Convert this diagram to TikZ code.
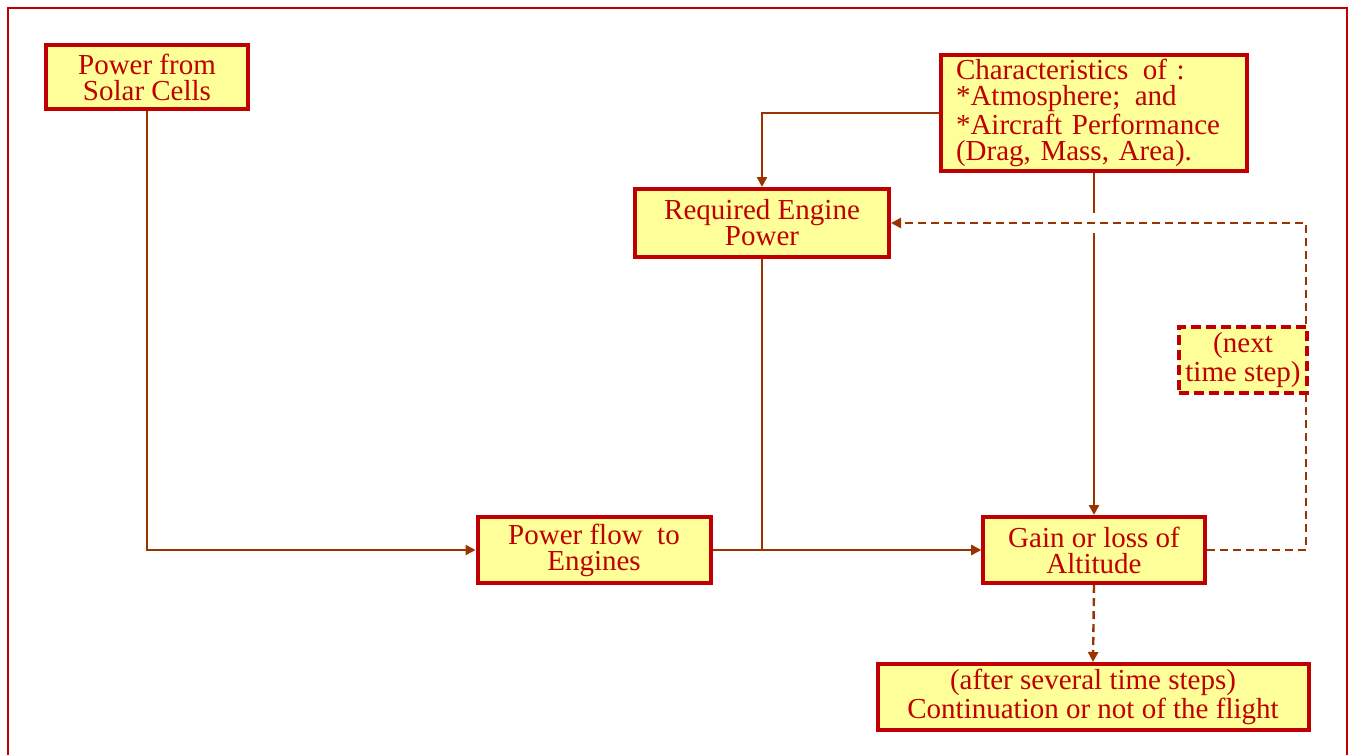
\documentclass[tikz,border=0pt]{standalone}
\usepackage{fontspec}
\setmainfont{Liberation Serif}
\usetikzlibrary{arrows.meta,backgrounds}
\definecolor{boxred}{HTML}{C00000}
\definecolor{boxfill}{HTML}{FFFF99}
\definecolor{wire}{HTML}{993300}
\tikzset{
  blk/.style={draw=boxred, fill=boxfill, line width=2pt, text=boxred, align=center, inner sep=2pt,
    font=\fontsize{14.5}{13}\selectfont},
  dblk/.style={blk, dash pattern=on 5pt off 2.5pt},
  flw/.style={draw=wire, line width=1.2pt},
  lp/.style={flw, dash pattern=on 4pt off 2.5pt},
  frm/.style={draw=boxred, line width=1.3pt}
}

\begin{document}
\begin{tikzpicture}[x=0.5pt, y=-0.5pt, >={Triangle[length=5pt,width=5pt]}]
\useasboundingbox (0,0) rectangle (1349,755);
% boxes
\node[blk, minimum width=101pt, minimum height=32pt] (solar) at (147,77) {Power from\\Solar Cells};
\node[blk, minimum width=153pt, minimum height=58pt, align=left, text width=138pt] (chars) at (1094,113)
  {Characteristics\enspace of :\\{}*Atmosphere;\enspace and\\{}*Aircraft Performance\\(Drag, Mass, Area).};
\node[blk, minimum width=127pt, minimum height=34pt] (reqpow) at (762,223) {Required Engine\\Power};
\node[dblk, minimum width=64pt, minimum height=33pt] (nextstep) at (1243,360) {(next\\time step)};
\node[blk, minimum width=116.5pt, minimum height=33pt] (flow) at (594,550) {Power flow\enspace to\\Engines};
\node[blk, minimum width=111pt, minimum height=33pt] (gain) at (1094,550) {Gain or loss of\\Altitude};
\node[blk, minimum width=215.5pt, minimum height=33pt] (outcome) at (1093,697)
  {(after several time steps)\\Continuation or not of the flight};
\coordinate (cross) at (chars.south |- reqpow.east);
\coordinate (turn) at (1306,550);
% connectors, kept behind the boxes
\begin{scope}[on background layer]
\draw[frm] (8,755) -- (8,8) -- (1347,8) -- (1347,755);
\draw[flw,->] (solar.south) |- (flow.west);
\draw[flw,->] (chars.west) -| (reqpow.north);
\draw[flw,->] (reqpow.south) |- (gain.west);
\draw[flw,->] (flow.east) -- (gain.west);
\draw[flw] (chars.south) -- ([yshift=5pt]cross);
\draw[flw,->] ([yshift=-5pt]cross) -- (gain.north);
\draw[lp,->] (gain.east) -- (turn) |- (reqpow.east);
\draw[lp,->] (gain.south) -- (outcome.north);
\end{scope}
\end{tikzpicture}
\end{document}
